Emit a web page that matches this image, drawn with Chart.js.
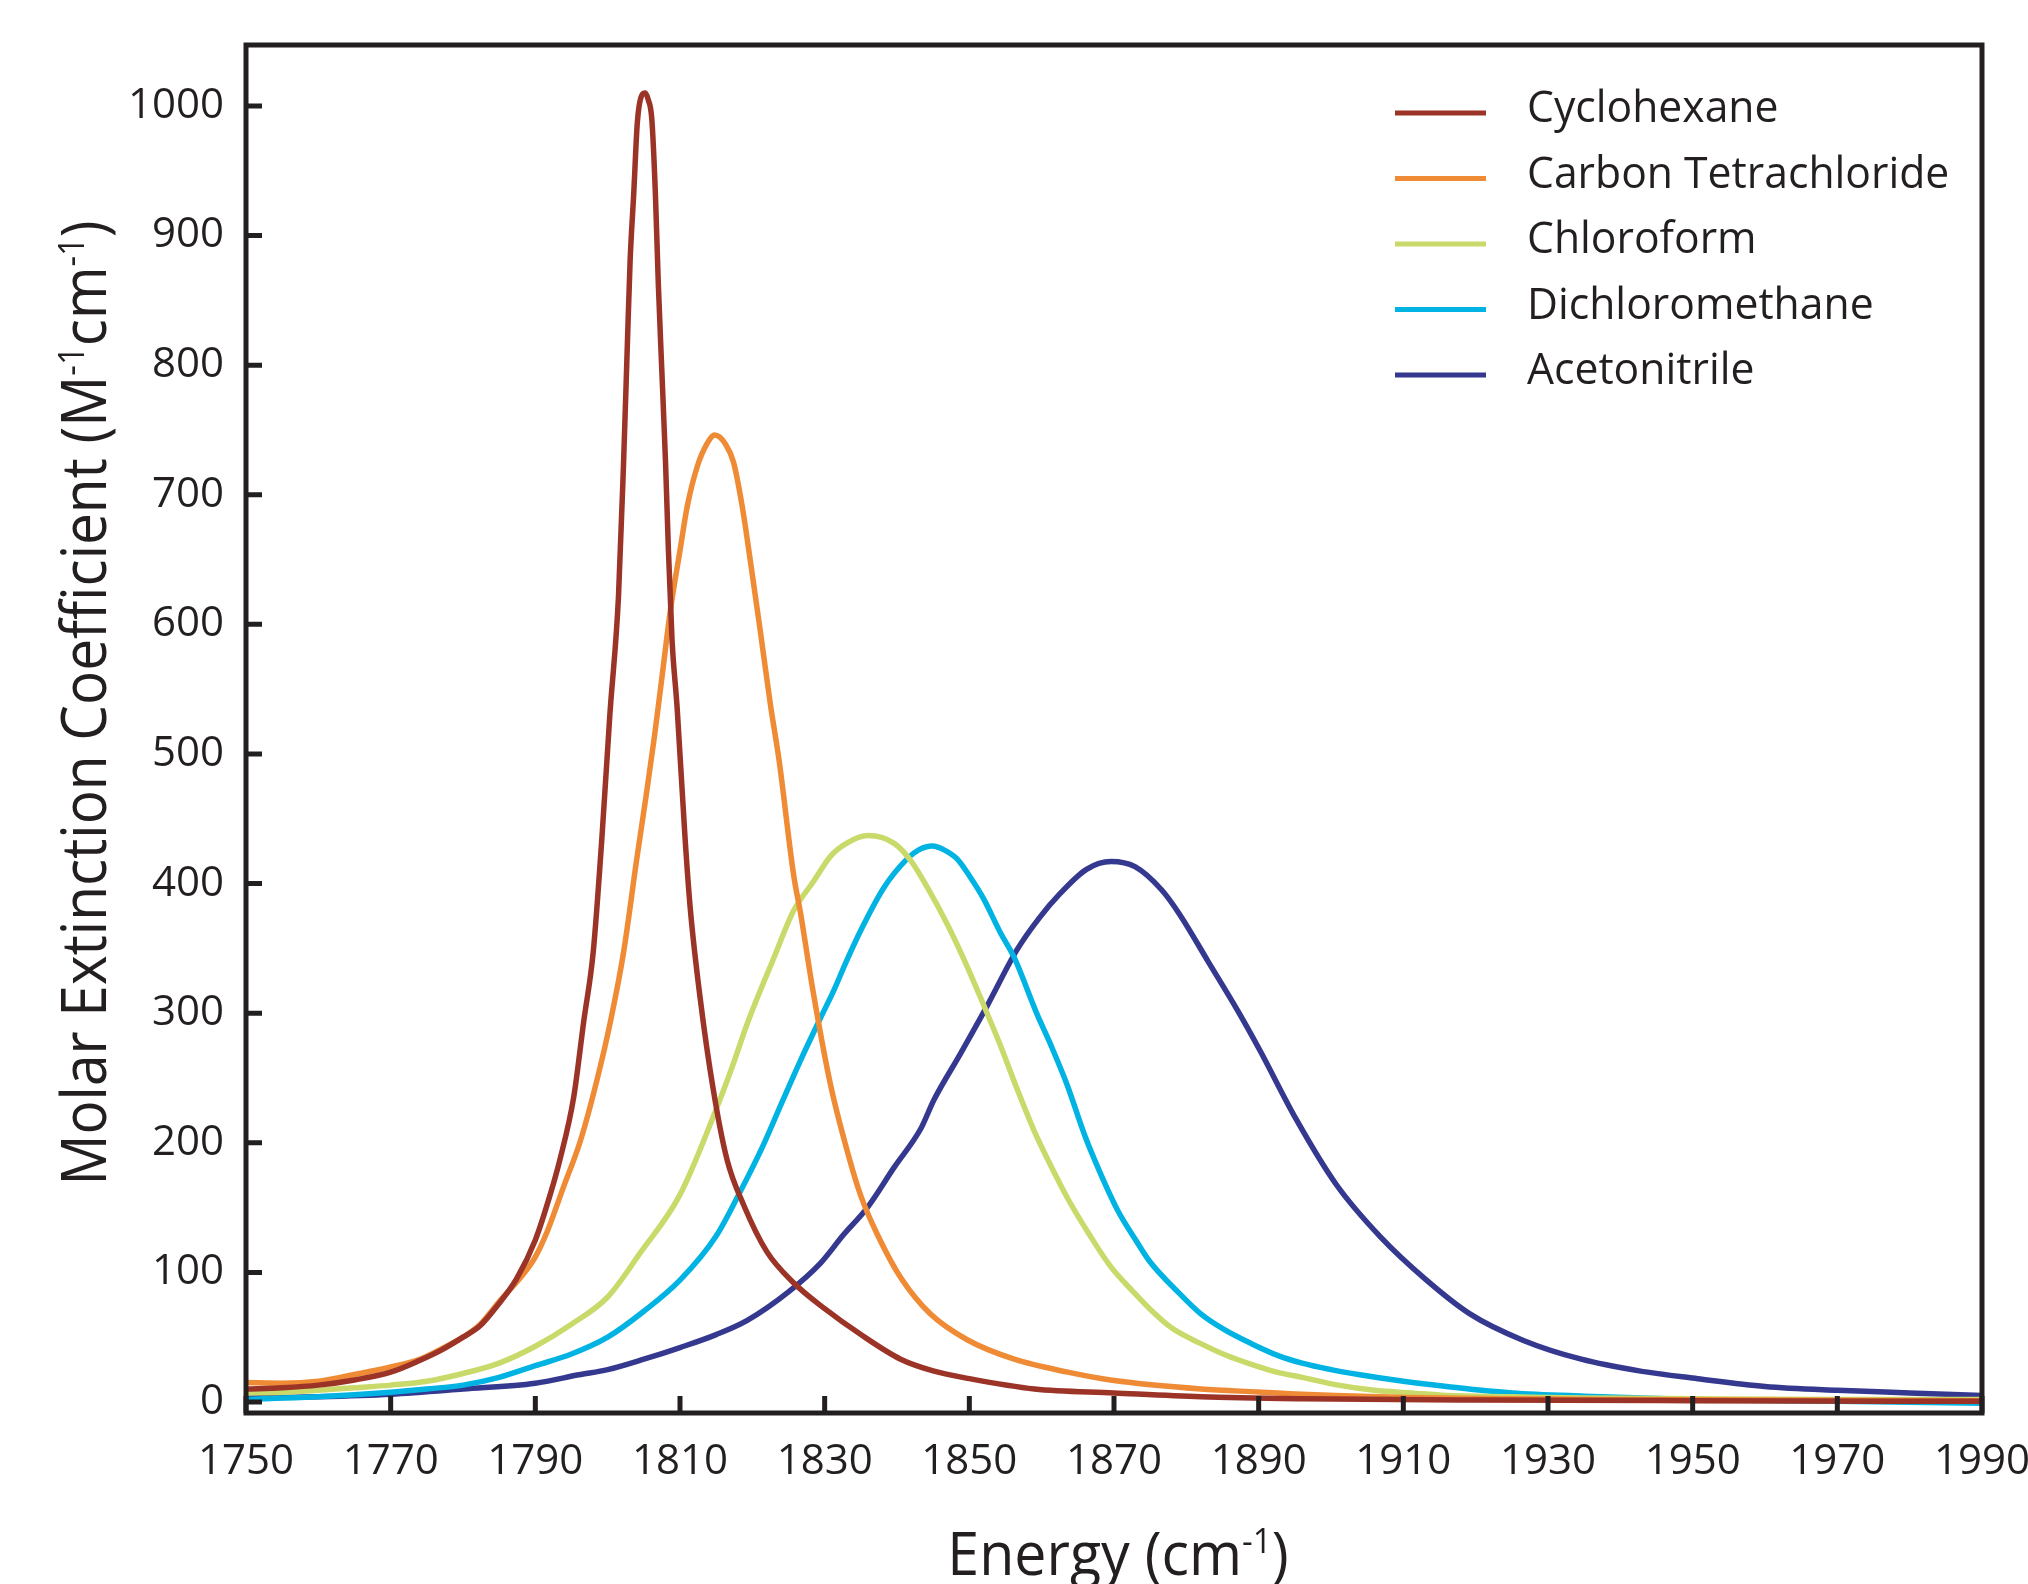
<!DOCTYPE html>
<html>
<head>
<meta charset="utf-8">
<script src="https://cdn.jsdelivr.net/npm/chart.js@4.4.1/dist/chart.umd.min.js"></script>
<style>
html, body { margin: 0; padding: 0; background: #fff; }
canvas { display: block; }
</style>
</head>
<body>
<canvas id="grafico" width="2028" height="1584"></canvas>
<script>
// Datos: energia (cm-1) y coeficiente de extincion molar
const cyclohexaneEnergy = [1750,1755,1760,1765,1770,1774,1777,1780,1782.4,1784.7,1787.4,1790,1792,1793.4,1795.3,1796.7,1798,1799.2,1800.3,1801.5,1802.2,1802.7,1803.1,1803.6,1804.1,1804.7,1805.2,1805.6,1806.1,1806.6,1807,1807.5,1808,1808.4,1808.9,1809.6,1810.7,1811.4,1812.8,1814.6,1816.5,1818.8,1822,1825.7,1830,1835,1840.5,1845,1850,1859,1870,1882,1896,1920,1950,1990];
const cyclohexaneEps = [10,11,13,17,23,32,40,50,59,74,95,125,159,187,235,294,347,435,530,622,725,812,880,932,987,1008,1010,1005,990,932,863,794,725,657,588,536,435,382,311,241,187,152,116,92,72,52,33,24,18,10,7,4,2.5,1.5,1,0.5];

const ccl4Energy = [1750,1755,1760,1763,1770,1774,1777,1780,1782.4,1785.1,1788.4,1790,1791.6,1793.9,1796.2,1798.5,1800.4,1802.2,1804,1805.4,1806.5,1807.3,1808.7,1810,1811,1812.4,1813.7,1814.8,1816.3,1817.4,1818.6,1819.7,1821.1,1822.5,1823.7,1825.7,1826.7,1828.3,1830.8,1833.3,1835,1837.3,1840.5,1844.6,1849.7,1856.2,1863.6,1870,1882,1890,1896,1916,1940,1960,1990];
const ccl4Eps = [15,14.5,16,19,27,33,41,50,60,78,99,112,131,166,201,248,294,347,418,471,515,550,612,657,691,722,739,746,739,725,691,650,595,538,495,407,376,320,245,190,159,129,96,68,48,33,23,16.5,10,7.7,6,3,2,1.5,1];

const chloroformEnergy = [1750,1755,1760,1765,1770,1775,1780,1785,1790,1795,1800,1804.5,1810,1815.5,1817.5,1819.3,1823,1825.7,1828.5,1830.8,1833,1836,1839.6,1842,1844.2,1847,1849.7,1852,1854.3,1856.5,1858.9,1861.2,1863.6,1866.5,1869.6,1872.5,1875.1,1878,1882,1885.5,1889,1892.5,1896,1901,1906,1911,1916,1925,1935,1950,1970,1990];
const chloroformEps = [7,7.5,9,11,13,16,22,30,43,60,81,115,160,233,263,292,343,379,402,421,431,437,431,417,397,368,336,306,275,243,210,183,157,130,104,86,71,57,45,36,29,23,19,13,9,7,5,4,3,2.5,2,2];

const dcmEnergy = [1750,1755,1760,1765,1770,1775,1780,1785,1790,1795,1800,1805,1810,1815,1818.3,1821.5,1824,1826.7,1829.4,1831.3,1833,1835,1838.2,1841.4,1843,1844.9,1846.5,1848.3,1850,1852,1854.3,1856.2,1859.3,1861.3,1863.5,1866,1868,1870.5,1873,1875,1879,1882,1885.2,1889,1892.6,1896,1900,1904,1910,1916,1925,1935,1950,1970,1990];
const dcmEps = [2,3,4,5.5,7.5,10,13,19,28,37,50,70,94,128,162,198,230,264,296,318,340,364,397,419,426,429,426,419,406,388,362,343,300,275,245,205,178,148,125,108,84,68,56,45,36,30,25,21,16,12,7,4.5,2,0.5,-1];

const acnEnergy = [1750,1760,1770,1780,1790,1796,1800,1805,1810,1815,1819.3,1825,1829.4,1832.6,1835.9,1839.6,1843.3,1845.1,1848.8,1852.5,1856.6,1859.6,1862.5,1866.2,1869.6,1872.9,1876.6,1879.1,1883,1887.2,1890.2,1895.1,1900.7,1906.9,1913,1919.2,1926.6,1934.6,1942.6,1950.7,1960,1970,1980,1990];
const acnEps = [3,4,6,10,14.5,21,25,33,42,52,63,85,107,129,150,181,211,233,269,306,349,373,392,411,417,413,395,376,340,301,271,219,168,127,95,68,47.5,33,24,18,12,9,7,5];

const seriesNames = ['Cyclohexane', 'Carbon Tetrachloride', 'Chloroform', 'Dichloromethane', 'Acetonitrile'];
const seriesColors = ['#9b3327', '#ef8a35', '#c9da6b', '#00b3e3', '#35388f'];

const FONT = "'Open Sans', 'Noto Sans', sans-serif";
const INK = '#231f20';

function puntos(xs, ys) {
    return xs.map((x, i) => ({ x: x, y: ys[i] }));
}

// texto con superindices, centrado en (cx, cy) sobre la linea base
function textoRico(ctx, partes, cx, cy, size, squeeze) {
    const supSize = size * 0.58;
    let total = 0;
    partes.forEach(p => {
        ctx.font = (p.sup ? supSize : size) + 'px ' + FONT;
        p.w = ctx.measureText(p.t).width;
        total += p.w;
    });
    ctx.save();
    ctx.translate(cx, cy);
    ctx.scale(squeeze, 1);
    ctx.textAlign = 'left';
    ctx.textBaseline = 'alphabetic';
    let x = -total / 2;
    partes.forEach(p => {
        ctx.font = (p.sup ? supSize : size) + 'px ' + FONT;
        ctx.fillText(p.t, x, p.sup ? -size * 0.36 : 0);
        x += p.w;
    });
    ctx.restore();
}

const fondo = {
    id: 'fondo',
    beforeDraw(chart) {
        const ctx = chart.ctx;
        ctx.save();
        ctx.fillStyle = '#fff';
        ctx.fillRect(0, 0, chart.width, chart.height);
        ctx.restore();
    }
};

const marco = {
    id: 'marco',
    afterDatasetsDraw(chart) {
        const ctx = chart.ctx;
        const a = chart.chartArea;
        const sx = chart.scales.x;
        const sy = chart.scales.y;
        ctx.save();
        ctx.strokeStyle = INK;
        ctx.lineWidth = 5;
        ctx.beginPath();
        sx.ticks.forEach(t => {
            const px = sx.getPixelForValue(t.value);
            ctx.moveTo(px, a.bottom);
            ctx.lineTo(px, a.bottom - 17);
        });
        sy.ticks.forEach(t => {
            const py = sy.getPixelForValue(t.value);
            ctx.moveTo(a.left, py);
            ctx.lineTo(a.left + 16, py);
        });
        ctx.stroke();
        ctx.strokeRect(a.left, a.top, a.right - a.left, a.bottom - a.top);

        // leyenda
        ctx.lineWidth = 5;
        chart.data.datasets.forEach((ds, i) => {
            const yl = 113 + i * 65.5;
            ctx.strokeStyle = ds.borderColor;
            ctx.beginPath();
            ctx.moveTo(1395, yl);
            ctx.lineTo(1486, yl);
            ctx.stroke();
            ctx.save();
            ctx.translate(1527, yl + 9);
            ctx.scale(0.97, 1);
            ctx.fillStyle = INK;
            ctx.font = '44px ' + FONT;
            ctx.textAlign = 'left';
            ctx.textBaseline = 'alphabetic';
            ctx.fillText(ds.label, 0, 0);
            ctx.restore();
        });

        // titulos de los ejes
        ctx.fillStyle = INK;
        textoRico(ctx, [{ t: 'Energy (cm' }, { t: '-1', sup: true }, { t: ')' }], 1118, 1575, 60, 0.955);
        ctx.save();
        ctx.translate(106, 703);
        ctx.rotate(-Math.PI / 2);
        textoRico(ctx, [{ t: 'Molar Extinction Coefficient (M' }, { t: '-1', sup: true }, { t: 'cm' }, { t: '-1', sup: true }, { t: ')' }], 0, 0, 62, 0.915);
        ctx.restore();
        ctx.restore();
    }
};

const energias = [cyclohexaneEnergy, ccl4Energy, chloroformEnergy, dcmEnergy, acnEnergy];
const valores = [cyclohexaneEps, ccl4Eps, chloroformEps, dcmEps, acnEps];

const ctx = document.getElementById('grafico').getContext('2d');
new Chart(ctx, {
    type: 'line',
    data: {
        datasets: seriesNames.map((name, i) => ({
            label: name,
            data: puntos(energias[i], valores[i]),
            borderColor: seriesColors[i],
            backgroundColor: seriesColors[i],
            borderWidth: 5.5,
            pointRadius: 0,
            cubicInterpolationMode: 'monotone',
            fill: false
        }))
    },
    options: {
        responsive: false,
        devicePixelRatio: 1,
        animation: false,
        layout: { padding: { top: 45, right: 46, left: 0, bottom: 0 } },
        plugins: {
            legend: { display: false },
            tooltip: { enabled: false }
        },
        scales: {
            x: {
                type: 'linear',
                min: 1750,
                max: 1990,
                grid: { display: false, drawTicks: false },
                border: { display: false },
                afterFit: scale => {
                    scale.height = 171;
                    scale.paddingLeft = 0;
                    scale.paddingRight = 0;
                },
                ticks: {
                    stepSize: 20,
                    includeBounds: false,
                    padding: 24,
                    color: INK,
                    font: { family: FONT, size: 42 },
                    maxRotation: 0,
                    autoSkip: false,
                    callback: v => String(v)
                }
            },
            y: {
                type: 'linear',
                min: -8.5,
                max: 1047,
                grid: { display: false, drawTicks: false },
                border: { display: false },
                afterFit: scale => {
                    scale.width = 246;
                    scale.paddingTop = 0;
                    scale.paddingBottom = 0;
                },
                ticks: {
                    stepSize: 100,
                    includeBounds: false,
                    padding: 22,
                    color: INK,
                    font: { family: FONT, size: 42 },
                    callback: v => String(v)
                }
            }
        }
    },
    plugins: [fondo, marco]
});
</script>
</body>
</html>
